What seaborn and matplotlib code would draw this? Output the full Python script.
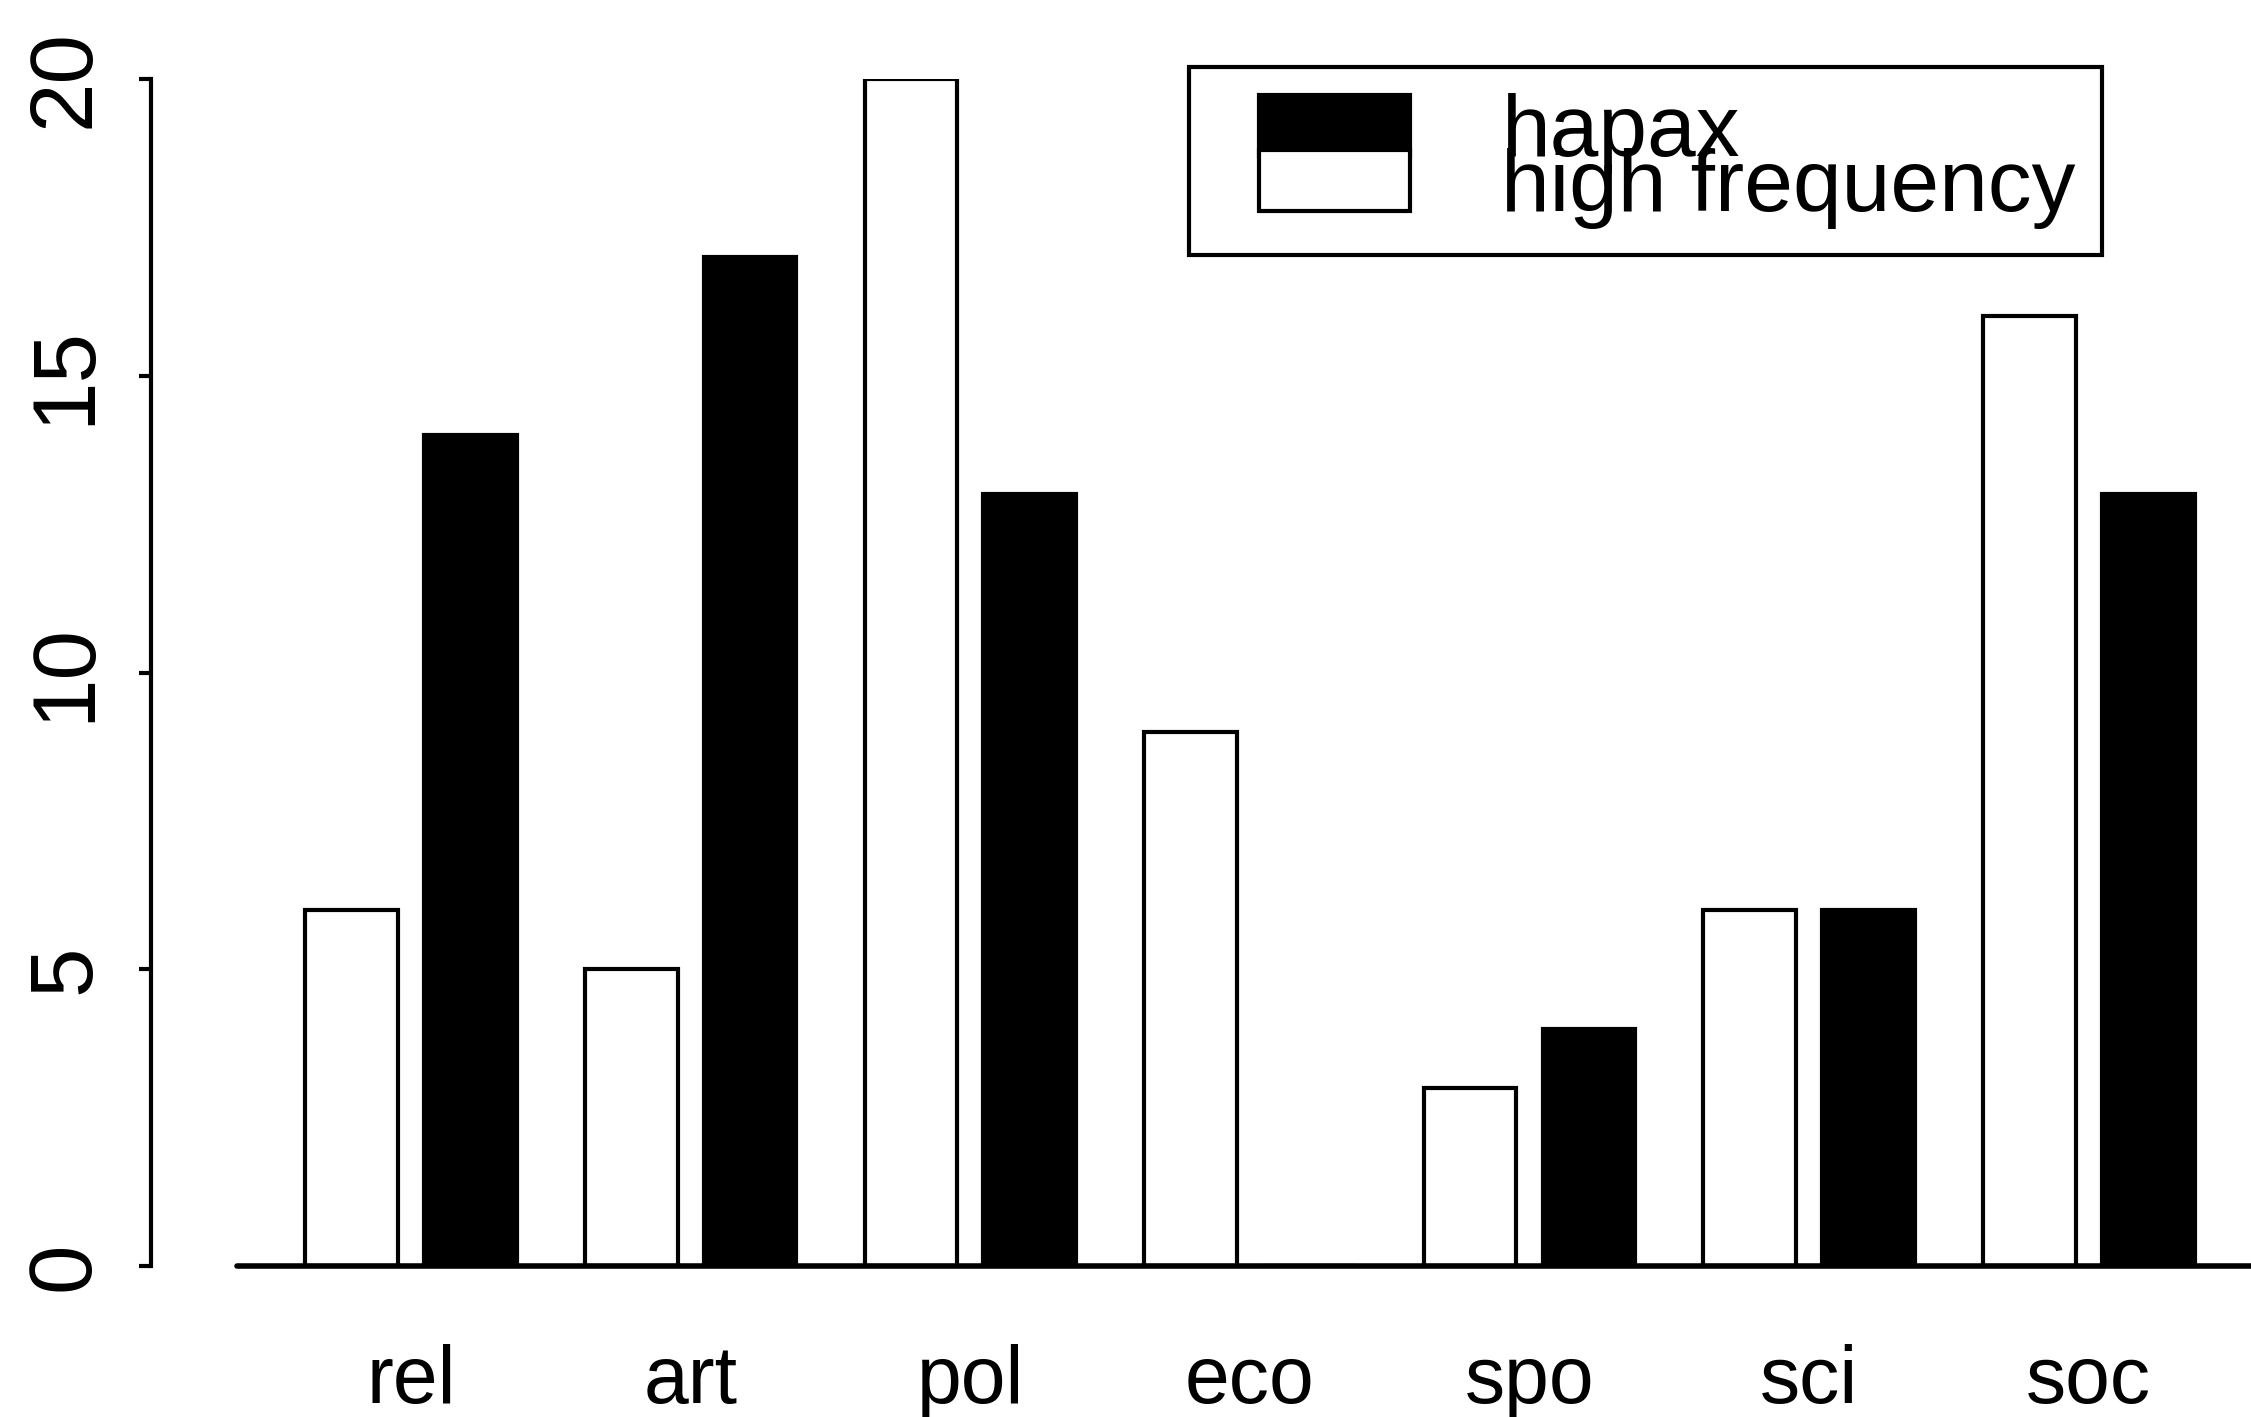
import matplotlib
matplotlib.use("Agg")
import matplotlib.pyplot as plt
from matplotlib.patches import Patch
from matplotlib.legend_handler import HandlerPatch
import numpy as np
import pandas as pd
import seaborn as sns

categories = ['rel', 'art', 'pol', 'eco', 'spo', 'sci', 'soc']
high_freq = [6, 5, 20, 9, 3, 6, 16]
hapax = [14, 17, 13, 0, 4, 6, 13]
series = ['high frequency', 'hapax']
yticks = [0, 5, 10, 15, 20]

df = pd.DataFrame({
    'cat': categories * 2,
    'count': high_freq + hapax,
    'type': [series[0]] * len(categories) + [series[1]] * len(categories),
})

sns.set_style('white')
plt.rcParams['font.family'] = ['Liberation Sans', 'DejaVu Sans']
plt.rcParams['text.color'] = 'black'
plt.rcParams['xtick.color'] = 'black'
plt.rcParams['ytick.color'] = 'black'

fig = plt.figure(figsize=(22.51, 14.17), dpi=100)
W, H = 2251, 1417
ax = fig.add_axes([151 / W, 1 - 1266 / H, (W - 151) / W, (1266 - 79) / H])

sns.barplot(data=df, x='cat', y='count', hue='type', hue_order=series,
            palette=['white', 'black'], edgecolor='black', linewidth=3,
            width=0.85, gap=0.22, legend=False, ax=ax)

ax.set_xlim(-0.93, 6.58)
ax.set_ylim(0, 20)
ax.set_xlabel('')
ax.set_ylabel('')

for s in ['top', 'right', 'bottom']:
    ax.spines[s].set_visible(False)
ax.spines['left'].set_linewidth(3)
ax.spines['left'].set_color('black')
ax.axhline(0, xmin=(237 - 151) / (W - 151), xmax=1, color='black', lw=4, clip_on=False)

ax.set_yticks(yticks)
ax.set_yticklabels([str(v) for v in yticks], rotation=90, va='center')
ax.tick_params(axis='y', length=9, width=3, color='black', pad=22, labelsize=64, left=True)
ax.tick_params(axis='x', length=0, pad=56, labelsize=58)

# legend: hapax on top, boxes stacked
handles = [Patch(facecolor='black', edgecolor='black', lw=3),
           Patch(facecolor='white', edgecolor='black', lw=3)]
leg = ax.legend(handles, ['hapax', 'high frequency'], loc='upper left',
                bbox_to_anchor=((1189 - 151) / (W - 151), 1 - (67 - 79) / (1266 - 79)),
                frameon=True, fancybox=False, framealpha=1,
                handlelength=2.22, handleheight=0.7, labelspacing=-0.3,
                handletextpad=1.05, borderpad=0.3, borderaxespad=0,
                handler_map={Patch: HandlerPatch(xpad=0.5)},
                prop={'family': ['Liberation Sans', 'DejaVu Sans'], 'size': 63})
leg.get_frame().set_linewidth(3)
leg.get_frame().set_edgecolor('black')

fig.savefig('out.png', dpi=100, facecolor='white')
